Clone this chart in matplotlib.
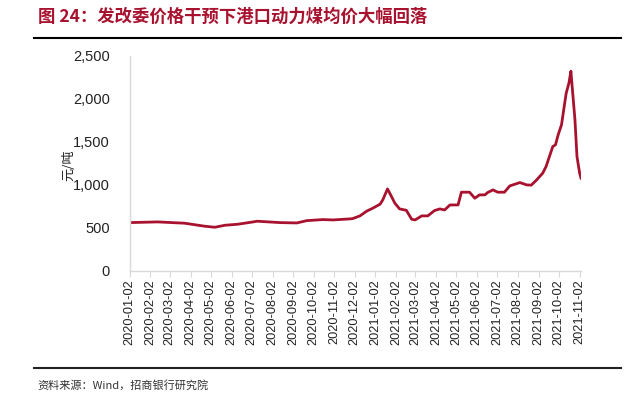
import matplotlib
matplotlib.use('Agg')

import matplotlib.pyplot as plt
import matplotlib.dates as mdates
from matplotlib.ticker import FuncFormatter
import pandas as pd

# ================== DATA ==================
dates = [
    "2020-01-02", "2020-02-13", "2020-03-24", "2020-04-23", "2020-05-08", "2020-05-23",
    "2020-06-11", "2020-07-04", "2020-07-10", "2020-08-13", "2020-09-07", "2020-09-22",
    "2020-10-16", "2020-10-31", "2020-11-25", "2020-11-29", "2020-12-10", "2020-12-20",
    "2020-12-29", "2021-01-09", "2021-01-13", "2021-01-20", "2021-01-26", "2021-01-31",
    "2021-02-07", "2021-02-17", "2021-02-25", "2021-03-02", "2021-03-12", "2021-03-21",
    "2021-03-31", "2021-04-08", "2021-04-15", "2021-04-23", "2021-05-05", "2021-05-10",
    "2021-05-22", "2021-05-30", "2021-06-06", "2021-06-14", "2021-06-18", "2021-06-26",
    "2021-07-03", "2021-07-13", "2021-07-21", "2021-08-05", "2021-08-15", "2021-08-22",
    "2021-08-30", "2021-09-08", "2021-09-13", "2021-09-18", "2021-09-23", "2021-09-27",
    "2021-10-01", "2021-10-06", "2021-10-10", "2021-10-13", "2021-10-17", "2021-10-20",
    "2021-10-21", "2021-10-26", "2021-10-29", "2021-11-02", "2021-11-04",
]
prices = [
    562, 570, 555, 520, 508, 531,
    543, 570, 578, 562, 558, 585,
    597, 593, 605, 608, 640, 695,
    729, 776, 826, 953, 864, 787,
    721, 705, 601, 593, 640, 640,
    702, 721, 709, 767, 767, 915,
    915, 845, 884, 884, 911, 942,
    915, 915, 988, 1027, 1000, 997,
    1058, 1136, 1213, 1329, 1445, 1465,
    1581, 1698, 1911, 2066, 2182, 2320,
    2221, 1756, 1329, 1136, 1078,
]
tick_dates = pd.date_range("2020-01-01", "2021-11-01", freq="MS") + pd.Timedelta(days=1)

title = "图 24：发改委价格干预下港口动力煤均价大幅回落"
source = "资料来源：Wind，招商银行研究院"

# ================== PLOT ==================
plt.rcParams['font.family'] = ['Liberation Sans', 'Noto Sans CJK SC', 'DejaVu Sans']
red = '#A8122E'
grey = '#D9D9D9'

fig = plt.figure(figsize=(6.36, 3.95), dpi=100)
W, H = 636, 395
ax = fig.add_axes([129.5 / W, 1 - 271 / H, (581 - 129.5) / W, (271 - 55.7) / H])

x = pd.to_datetime(dates)
ax.plot(x, prices, color=red, linewidth=2.0, solid_joinstyle='round')

ax.set_ylim(0, 2500)
ax.set_yticks(range(0, 2501, 500))
ax.yaxis.set_major_formatter(FuncFormatter(lambda v, p: f"{int(v):,}"))
ax.set_xlim(pd.Timestamp("2020-01-02"), pd.Timestamp("2021-11-04"))
ax.set_xticks(tick_dates)
ax.xaxis.set_major_formatter(mdates.DateFormatter("%Y-%m-%d"))
for lbl in ax.get_xticklabels():
    lbl.set_rotation(90)

for s in ['top', 'right']:
    ax.spines[s].set_visible(False)
for s in ['left', 'bottom']:
    ax.spines[s].set_color(grey)
    ax.spines[s].set_linewidth(1.0)
ax.tick_params(axis='y', length=0, labelsize=10.5, pad=14, colors='#222222')
ax.tick_params(axis='x', length=4, color=grey, labelsize=9.2, pad=2, labelcolor='#222222')

fig.text(69 / W, 1 - 165 / H, "元/吨", rotation=90, ha='center', va='center',
         fontsize=9.5, family=['Noto Sans CJK SC'], color='#222222')

# title + rules
fig.text(38 / W, 1 - 17 / H, title, ha='left', va='center', fontsize=12.5,
         fontweight='bold', color=red, family=['Noto Sans CJK SC', 'DejaVu Sans'])
fig.add_artist(plt.Line2D([34 / W, 621 / W], [1 - 38 / H, 1 - 38 / H],
                          color='black', linewidth=1.5))
fig.add_artist(plt.Line2D([34 / W, 621 / W], [1 - 367.5 / H, 1 - 367.5 / H],
                          color='#222222', linewidth=1.5))
fig.text(37 / W, 1 - 385 / H, source, ha='left', va='center', fontsize=8,
         color='#333333', family=['Noto Sans CJK SC', 'DejaVu Sans'])

plt.savefig("out.png", dpi=100)
plt.close()
